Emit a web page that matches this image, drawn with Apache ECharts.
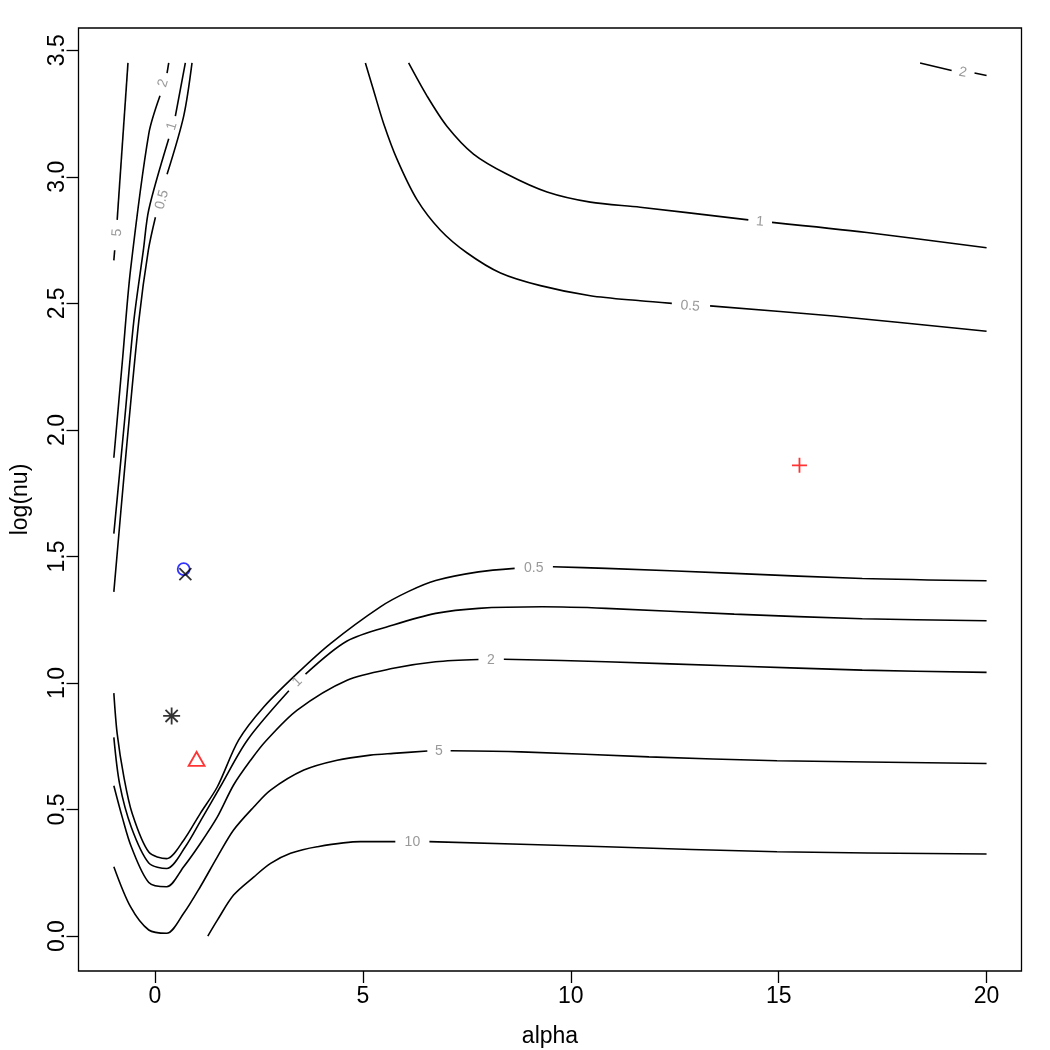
<!DOCTYPE html>
<html>
<head>
<meta charset="utf-8">
<script src="https://cdn.jsdelivr.net/npm/echarts@6/dist/echarts.min.js"></script>
<style>
html,body{margin:0;padding:0;background:#fff}
#chart{width:1050px;height:1050px}
</style>
</head>
<body>
<div id="chart"></div>
<script>
// 等高线 [alpha, log(nu)]，null = 断开（留给标注数字）
let low_05=[[-0.99,0.96],[-0.91,0.80],[-0.75,0.63],[-0.55,0.485],[-0.15,0.332],[0.28,0.306],[0.69,0.379],[1.09,0.485],[1.50,0.59],[2.01,0.774],[2.62,0.906],[3.42,1.038],[4.22,1.156],[5.42,1.301],[6.1,1.362],[6.75,1.405],[7.78,1.439],[8.65,1.453],null,[9.57,1.459],[10.85,1.453],[13.93,1.433],[17.01,1.413],[20,1.404]]
let low_1=[[-0.99,0.785],[-0.85,0.60],[-0.57,0.43],[-0.15,0.289],[0.28,0.267],[0.73,0.353],[1.13,0.465],[1.57,0.59],[2.22,0.774],[3.22,0.969],null,[3.62,1.035],[4.62,1.166],[5.73,1.229],[6.75,1.275],[7.78,1.295],[9.31,1.301],[10.85,1.295],[13.93,1.272],[17.01,1.254],[20,1.246]]
let low_2=[[-0.99,0.594],[-0.79,0.471],[-0.57,0.353],[-0.15,0.212],[0.28,0.195],[0.69,0.274],[1.09,0.366],[1.50,0.471],[1.89,0.597],[2.30,0.695],[2.66,0.770],[3.42,0.893],[4.62,1.011],[5.73,1.058],[6.75,1.084],[7.78,1.093],null,[8.39,1.094],[10.85,1.084],[13.93,1.067],[17.01,1.051],[20,1.042]]
let low_5=[[-0.99,0.274],[-0.59,0.116],[-0.15,0.024],[0.28,0.011],[0.69,0.09],[1.09,0.195],[1.50,0.313],[1.89,0.419],[2.38,0.511],[2.78,0.577],[3.58,0.656],[4.38,0.695],[5.18,0.715],[5.73,0.722],[6.55,0.731],null,[7.11,0.732],[8.80,0.728],[11.88,0.708],[14.96,0.693],[20,0.682]]
let low_10=[[1.27,0],[1.50,0.063],[1.89,0.162],[2.38,0.234],[2.78,0.287],[3.26,0.327],[3.90,0.353],[4.94,0.373],[5.78,0.373],null,[6.60,0.373],[10.85,0.353],[14.96,0.333],[20,0.324]]
let top_05=[[5.06,3.45],[5.26,3.34],[5.50,3.21],[5.82,3.07],[6.30,2.91],[6.86,2.79],[7.50,2.70],[8.31,2.62],[9.27,2.57],[10.47,2.53],[11.67,2.51],[12.43,2.50],null,[13.35,2.49],[16.32,2.45],[20,2.39]]
let top_1=[[6.10,3.45],[6.54,3.32],[7.02,3.20],[7.66,3.09],[8.47,3.01],[9.43,2.94],[10.47,2.90],[11.67,2.88],[14.27,2.83],null,[14.84,2.82],[17.12,2.78],[20,2.72]]
let corner_2=[[18.40,3.45],[19.16,3.42],null,[19.71,3.41],[20,3.40]]
let left_05=[[-0.99,1.36],[-0.69,1.92],[-0.39,2.43],[-0.16,2.71],[0.01,2.84],null,[0.29,3.01],[0.69,3.24],[0.89,3.45]]
let left_1=[[-0.99,1.59],[-0.73,2.04],[-0.51,2.43],[-0.28,2.71],[-0.15,2.87],[0.33,3.15],null,[0.49,3.24],[0.73,3.45]]
let left_2=[[-0.99,1.89],[-0.78,2.28],[-0.59,2.63],[-0.15,3.17],[0.12,3.32],null,[0.29,3.41],[0.33,3.45]]
let left_5=[[-0.99,2.67],[-0.97,2.71],null,[-0.91,2.83],[-0.65,3.45]]
let contour_list=[low_05,low_1,low_2,low_5,low_10,top_05,top_1,corner_2,left_05,left_1,left_2,left_5]

// 等高线上的数字
let label_text=['0.5','1','2','5','10','0.5','1','2','0.5','1','2','5']
let label_alpha=[9.11,3.42,8.08,6.83,6.19,12.87,14.55,19.43,0.17,0.41,0.20,-0.91]
let label_lognu=[1.453,1.005,1.09,0.732,0.373,2.489,2.822,3.412,2.91,3.20,3.37,2.78]
let label_angle=[0,45,0,0,0,-4,-5,-11,75,73,73,86]

// 五个点
let point_alpha=[15.5,0.69,0.73,0.40,1.0]
let point_lognu=[1.86,1.45,1.43,0.87,0.70]
let point_symbol=['path://M0,-1L0,1M-1,0L1,0','circle','path://M-1,-1L1,1M-1,1L1,-1','path://M0,-1L0,1M-1,0L1,0M-0.72,-0.72L0.72,0.72M-0.72,0.72L0.72,-0.72','triangle']
let point_color=['#ff0000','#0000ff','#000000','#000000','#ff0000']
let point_size=[[15,15],[12,12],[12,12],[17,17],[16,14]]

let x_ticks=[0,5,10,15,20]
let y_ticks=[0,0.5,1,1.5,2,2.5,3,3.5]
let font_name="'Liberation Sans', Helvetica, Arial, sans-serif"

let series_list=[]
for(let i=0;i<contour_list.length;i++){
    let line=contour_list[i]
    let seg=[]
    for(let k=0;k<=line.length;k++){
        if(k===line.length||line[k]===null){
            if(seg.length>1){
                series_list.push({
                    type:'line',
                    data:seg,
                    symbol:'none',
                    smooth:0.3,
                    silent:true,
                    lineStyle:{color:'#000',width:1.6},
                    z:2
                })
            }
            seg=[]
        }else{
            seg.push(line[k])
        }
    }
}
series_list.push({
    type:'scatter',
    symbolSize:1,
    silent:true,
    itemStyle:{color:'transparent'},
    label:{show:true,position:'inside',formatter:'{b}',color:'#808080',fontSize:14,fontFamily:font_name},
    data:label_text.map((t,i)=>({name:t,value:[label_alpha[i],label_lognu[i]],label:{rotate:label_angle[i]}})),
    z:3
})
for(let i=0;i<point_alpha.length;i++){
    series_list.push({
        type:'scatter',
        symbol:point_symbol[i],
        symbolSize:point_size[i],
        silent:true,
        itemStyle:{color:'transparent',borderColor:point_color[i],borderWidth:1.8},
        data:[[point_alpha[i],point_lognu[i]]],
        z:4+i
    })
}

let chart=echarts.init(document.getElementById('chart'))
chart.setOption({
    animation:false,
    backgroundColor:'#fff',
    grid:{left:78.5,right:28.5,top:28,bottom:79,containLabel:false,outerBoundsMode:'none',show:true,borderColor:'#000',borderWidth:1.3,backgroundColor:'transparent'},
    xAxis:{
        type:'value',min:-1.84,max:20.84,
        name:'alpha',nameLocation:'middle',nameGap:54,
        nameTextStyle:{fontSize:23,color:'#000',fontFamily:font_name},
        axisLine:{show:false,onZero:false},
        splitLine:{show:false},
        axisTick:{show:true,inside:false,length:12,customValues:x_ticks,lineStyle:{color:'#000',width:1.3}},
        axisLabel:{margin:14,fontSize:23,color:'#000',fontFamily:font_name,customValues:x_ticks}
    },
    yAxis:{
        type:'value',min:-0.138,max:3.588,
        name:'log(nu)',nameLocation:'middle',nameGap:46,nameRotate:90,
        nameTextStyle:{fontSize:23,color:'#000',fontFamily:font_name},
        axisLine:{show:false,onZero:false},
        splitLine:{show:false},
        axisTick:{show:true,inside:false,length:12,customValues:y_ticks,lineStyle:{color:'#000',width:1.3}},
        axisLabel:{margin:9,rotate:90,fontSize:23,color:'#000',fontFamily:font_name,customValues:y_ticks,formatter:v=>v.toFixed(1)}
    },
    series:series_list
})
</script>
</body>
</html>
